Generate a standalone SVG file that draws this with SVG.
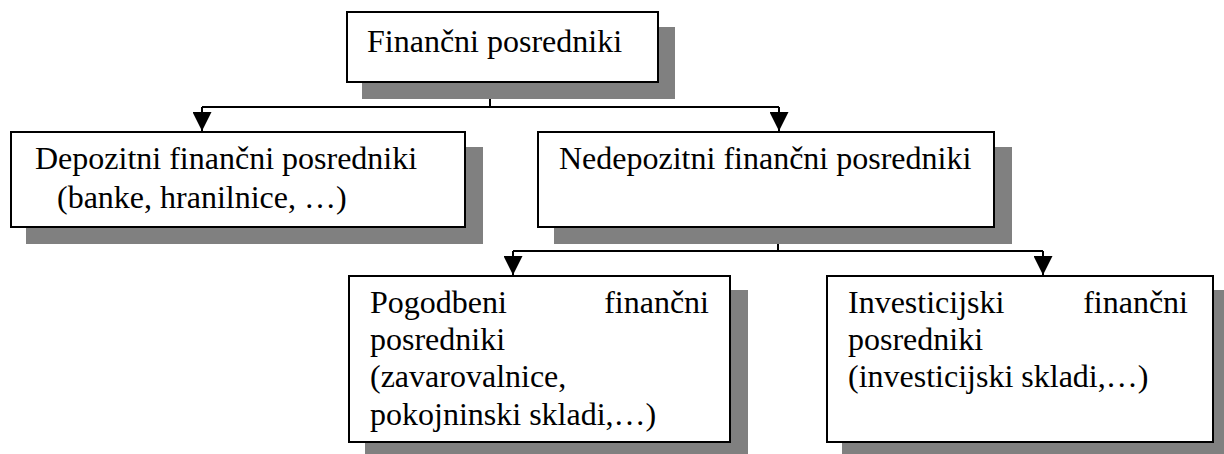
<svg xmlns="http://www.w3.org/2000/svg" width="1224" height="454" viewBox="0 0 1224 454">
<style>
.box{fill:#fff;stroke:#000;stroke-width:2}
.sh{fill:#808080}
.t{font-family:"Liberation Serif","Times New Roman",serif;font-size:32px;fill:#000}
.c{fill:none;stroke:#000;stroke-width:2}
</style>
<defs>
<marker id="ah" viewBox="0 0 20 20" refX="20" refY="10" markerWidth="21" markerHeight="19" markerUnits="userSpaceOnUse" orient="auto">
<path d="M0,0 L20,10 L0,20 z" fill="#000"/>
</marker>
</defs>
<rect width="1224" height="454" fill="#fff"/>
<g id="connectors">
<path class="c" d="M490,83 V107 M202,107 H779"/>
<path class="c" d="M202,107 V131" marker-end="url(#ah)"/>
<path class="c" d="M779,107 V131" marker-end="url(#ah)"/>
<path class="c" d="M778,228 V251 M513,251 H1043"/>
<path class="c" d="M513,251 V275" marker-end="url(#ah)"/>
<path class="c" d="M1043,251 V275" marker-end="url(#ah)"/>
</g>
<g id="n-financni">
<rect class="sh" x="362" y="27" width="313" height="72"/>
<rect class="box" x="347" y="12" width="311" height="70"/>
<text class="t" x="367" y="52">Finančni posredniki</text>
</g>
<g id="n-depozitni">
<rect class="sh" x="26" y="147" width="457" height="97"/>
<rect class="box" x="11" y="132" width="454" height="95"/>
<text class="t" x="35" y="169">Depozitni finančni posredniki</text>
<text class="t" x="57" y="208">(banke, hranilnice, …)</text>
</g>
<g id="n-nedepozitni">
<rect class="sh" x="554" y="147" width="458" height="97"/>
<rect class="box" x="538" y="132" width="456" height="95"/>
<text class="t" x="559" y="169">Nedepozitni finančni posredniki</text>
</g>
<g id="n-pogodbeni">
<rect class="sh" x="365" y="290" width="383" height="164"/>
<rect class="box" x="349" y="276" width="381" height="166"/>
<text class="t" x="370" y="313">Pogodbeni</text>
<text class="t" x="709" y="313" text-anchor="end">finančni</text>
<text class="t" x="370" y="350">posredniki</text>
<text class="t" x="370" y="387">(zavarovalnice,</text>
<text class="t" x="370" y="425">pokojninski skladi,…)</text>
</g>
<g id="n-investicijski">
<rect class="sh" x="842" y="290" width="382" height="164"/>
<rect class="box" x="827" y="276" width="386" height="166"/>
<text class="t" x="848" y="313">Investicijski</text>
<text class="t" x="1188" y="313" text-anchor="end">finančni</text>
<text class="t" x="848" y="350">posredniki</text>
<text class="t" x="848" y="387">(investicijski skladi,…)</text>
</g>
</svg>
